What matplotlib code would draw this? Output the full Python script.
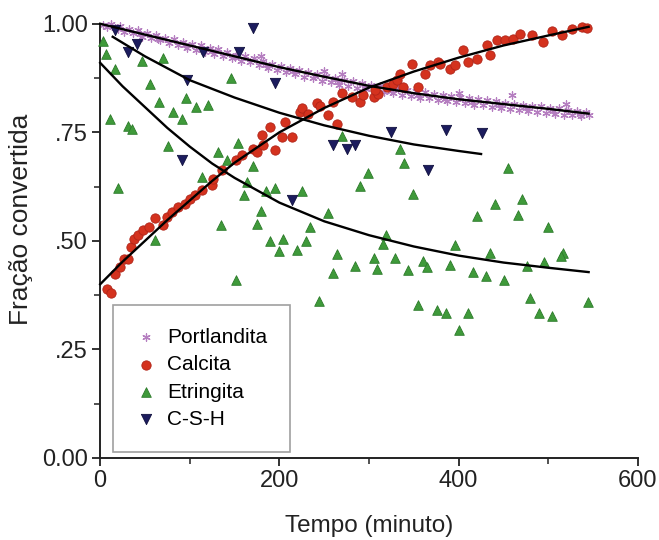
import matplotlib
matplotlib.use('Agg')
import matplotlib.pyplot as plt
from matplotlib.ticker import FixedLocator, FixedFormatter

plt.rcParams['font.family'] = ['Liberation Sans', 'DejaVu Sans']

# ---- dados ----
port_t = [3, 8, 12, 17, 22, 27, 32, 37, 42, 47, 52, 57, 62, 67, 72, 77, 82, 87, 92, 97,
          102, 107, 112, 117, 122, 127, 132, 137, 142, 147, 152, 157, 162, 167, 172, 177,
          182, 187, 192, 197, 202, 207, 212, 217, 222, 227, 232, 237, 242, 247, 252, 257,
          262, 267, 272, 277, 282, 287, 292, 297, 302, 307, 312, 317, 322, 327, 332, 337,
          342, 347, 352, 357, 362, 367, 372, 377, 382, 387, 392, 397, 402, 407, 412, 417,
          422, 427, 432, 437, 442, 447, 452, 457, 462, 467, 472, 477, 482, 487, 492, 497,
          502, 507, 512, 517, 522, 527, 532, 537, 542, 545,
          180, 270, 330, 460, 520, 250, 400,
          20, 45, 65, 95, 125, 150, 185, 215, 240, 265, 295, 325, 355, 385, 415, 445,
          475, 505, 535]
port_v = [0.998, 0.992, 1.000, 0.990, 0.994, 0.982, 0.988, 0.979, 0.985, 0.970, 0.978,
          0.968, 0.975, 0.962, 0.968, 0.955, 0.966, 0.952, 0.958, 0.944, 0.953, 0.940,
          0.950, 0.936, 0.944, 0.930, 0.941, 0.926, 0.935, 0.921, 0.929, 0.915, 0.925,
          0.912, 0.920, 0.905, 0.915, 0.898, 0.908, 0.893, 0.903, 0.888, 0.898, 0.884,
          0.894, 0.878, 0.889, 0.874, 0.885, 0.869, 0.879, 0.866, 0.876, 0.860, 0.871,
          0.857, 0.868, 0.852, 0.864, 0.849, 0.860, 0.846, 0.857, 0.843, 0.853, 0.840,
          0.850, 0.836, 0.848, 0.833, 0.846, 0.830, 0.842, 0.828, 0.838, 0.825, 0.836,
          0.822, 0.834, 0.819, 0.831, 0.818, 0.828, 0.812, 0.827, 0.813, 0.824, 0.808,
          0.822, 0.807, 0.818, 0.803, 0.816, 0.801, 0.814, 0.799, 0.811, 0.797, 0.810,
          0.795, 0.806, 0.792, 0.805, 0.790, 0.802, 0.789, 0.799, 0.787, 0.797, 0.790,
          0.925, 0.885, 0.868, 0.835, 0.815, 0.892, 0.840,
          0.987, 0.976, 0.964, 0.950, 0.937, 0.924, 0.906, 0.891, 0.879, 0.867, 0.855,
          0.846, 0.835, 0.826, 0.820, 0.812, 0.805, 0.798, 0.793]

calc_t = [8, 12, 17, 22, 27, 31, 34, 38, 42, 48, 54, 61, 70, 75, 80, 87, 95, 100, 106,
          114, 125, 126, 136, 151, 158, 170, 175, 181, 182, 195, 190, 203, 214, 206, 223,
          225, 232, 242, 245, 254, 264, 260, 270, 281, 290, 293, 305, 310, 307, 320, 327,
          331, 338, 355, 335, 348, 362, 377, 368, 379, 390, 396, 405, 410, 420, 432, 435,
          443, 452, 461, 468, 482, 494, 504, 515, 526, 538, 543]
calc_v = [0.389, 0.380, 0.424, 0.440, 0.459, 0.459, 0.486, 0.505, 0.514, 0.525, 0.532,
          0.553, 0.537, 0.555, 0.567, 0.578, 0.585, 0.597, 0.606, 0.618, 0.629, 0.643,
          0.664, 0.687, 0.698, 0.712, 0.705, 0.744, 0.721, 0.710, 0.763, 0.740, 0.740,
          0.774, 0.797, 0.806, 0.793, 0.818, 0.811, 0.790, 0.770, 0.820, 0.841, 0.832,
          0.820, 0.836, 0.832, 0.839, 0.848, 0.855, 0.862, 0.871, 0.855, 0.855, 0.885,
          0.908, 0.885, 0.912, 0.906, 0.908, 0.896, 0.906, 0.940, 0.912, 0.919, 0.952,
          0.929, 0.963, 0.963, 0.965, 0.977, 0.975, 0.959, 0.984, 0.975, 0.988, 0.993,
          0.991]

etr_t = [3, 6, 17, 11, 31, 36, 20, 47, 70, 56, 66, 81, 91, 96, 107, 120, 146, 76, 131,
         154, 141, 171, 164, 160, 180, 114, 61, 135, 151, 175, 270, 335, 339, 299, 290,
         349, 195, 185, 225, 254, 234, 190, 204, 200, 220, 230, 264, 260, 284, 305, 309,
         329, 319, 316, 344, 360, 365, 244, 355, 420, 466, 500, 396, 435, 390, 416, 431,
         451, 476, 495, 516, 514, 480, 544, 376, 386, 410, 400, 490, 504, 455, 471, 441]
etr_v = [0.960, 0.930, 0.896, 0.781, 0.765, 0.758, 0.622, 0.915, 0.922, 0.862, 0.820,
         0.797, 0.781, 0.829, 0.809, 0.813, 0.876, 0.719, 0.705, 0.726, 0.687, 0.673,
         0.636, 0.606, 0.569, 0.647, 0.502, 0.537, 0.410, 0.539, 0.742, 0.712, 0.680,
         0.657, 0.627, 0.608, 0.622, 0.615, 0.615, 0.565, 0.532, 0.500, 0.505, 0.477,
         0.479, 0.500, 0.470, 0.426, 0.442, 0.461, 0.435, 0.461, 0.514, 0.493, 0.433,
         0.454, 0.440, 0.362, 0.353, 0.558, 0.560, 0.532, 0.491, 0.472, 0.445, 0.429,
         0.419, 0.410, 0.442, 0.452, 0.472, 0.466, 0.369, 0.359, 0.341, 0.334, 0.334,
         0.295, 0.334, 0.327, 0.668, 0.597, 0.585]

csh_t = [17, 41, 31, 97, 115, 155, 171, 195, 91, 214, 260, 275, 284, 325, 386, 426, 366]
csh_v = [0.986, 0.954, 0.935, 0.871, 0.935, 0.935, 0.991, 0.864, 0.687, 0.594, 0.721,
         0.712, 0.721, 0.751, 0.756, 0.749, 0.664]

# curvas de ajuste
fit_port_t = [0, 50, 100, 150, 200, 250, 300, 350, 400, 450, 500, 545]
fit_port_v = [1.000, 0.975, 0.950, 0.925, 0.900, 0.878, 0.857, 0.840, 0.826, 0.815, 0.804, 0.793]
fit_calc_t = [0, 25, 50, 75, 100, 125, 150, 200, 250, 300, 350, 400, 450, 500, 545]
fit_calc_v = [0.400, 0.452, 0.500, 0.548, 0.593, 0.638, 0.680, 0.750, 0.806, 0.853, 0.890,
              0.922, 0.950, 0.973, 0.993]
fit_etr_t = [0, 25, 50, 75, 100, 125, 150, 200, 250, 300, 350, 400, 450, 500, 545]
fit_etr_v = [0.910, 0.856, 0.808, 0.760, 0.717, 0.678, 0.645, 0.588, 0.545, 0.513, 0.487,
             0.466, 0.450, 0.438, 0.428]
fit_csh_t = [14, 50, 100, 150, 200, 250, 300, 350, 400, 425]
fit_csh_v = [0.970, 0.925, 0.870, 0.830, 0.795, 0.766, 0.742, 0.722, 0.707, 0.700]

yticks = [0, 0.25, 0.5, 0.75, 1.0]
ytick_labels = ['0.00', '.25', '.50', '.75', '1.00']
xticks = [0, 200, 400, 600]

fig = plt.figure(figsize=(6.59, 5.40), dpi=100)
ax = fig.add_axes([0.152, 0.152, 0.816, 0.804])

ax.scatter(port_t, port_v, marker=(6, 2, 0), s=28, color='#b57ec0', linewidths=0.9,
           label='Portlandita', zorder=2, clip_on=False)
ax.scatter(calc_t, calc_v, marker='o', s=45, color='#d4321e', edgecolors='#b02418',
           linewidths=0.6, label='Calcita', zorder=3, clip_on=False)
ax.scatter(etr_t, etr_v, marker='^', s=48, color='#3f9a3a', edgecolors='#2c7a2a',
           linewidths=0.6, label='Etringita', zorder=3, clip_on=False)
ax.scatter(csh_t, csh_v, marker='v', s=55, color='#1c1c5e', edgecolors='#10103e',
           linewidths=0.6, label='C-S-H', zorder=3, clip_on=False)

for ft, fv in [(fit_port_t, fit_port_v), (fit_calc_t, fit_calc_v),
               (fit_etr_t, fit_etr_v), (fit_csh_t, fit_csh_v)]:
    ax.plot(ft, fv, color='black', lw=1.7, zorder=4, clip_on=False)

ax.set_xlim(0, 600)
ax.set_ylim(0, 1.0)
ax.spines['top'].set_visible(False)
ax.spines['right'].set_visible(False)
for s in ['left', 'bottom']:
    ax.spines[s].set_linewidth(1.4)
    ax.spines[s].set_color('#222222')

ax.xaxis.set_major_locator(FixedLocator(xticks))
ax.xaxis.set_minor_locator(FixedLocator([100, 300, 500]))
ax.yaxis.set_major_locator(FixedLocator(yticks))
ax.yaxis.set_major_formatter(FixedFormatter(ytick_labels))
ax.yaxis.set_minor_locator(FixedLocator([0.125, 0.375, 0.625, 0.875]))
ax.tick_params(which='major', direction='out', length=6, width=1.3, labelsize=17, pad=3,
               colors='#222222')
ax.tick_params(which='minor', direction='out', length=4, width=1.1, colors='#222222')

ax.set_xlabel('Tempo (minuto)', fontsize=17.5, labelpad=16, color='#222222')
ax.set_ylabel('Fração convertida', fontsize=19, color='#222222')
ax.yaxis.set_label_coords(-0.125, 0.55)

leg = ax.legend(loc='lower left', bbox_to_anchor=(0.024, 0.014), fontsize=15,
                frameon=True, fancybox=False, borderpad=1.1, labelspacing=0.4,
                handlelength=1.0, handletextpad=0.5, borderaxespad=0, scatterpoints=1)
leg.get_frame().set_edgecolor('#888888')
leg.get_frame().set_linewidth(1.2)
leg.set_zorder(5)

fig.savefig('out.png', dpi=100)
